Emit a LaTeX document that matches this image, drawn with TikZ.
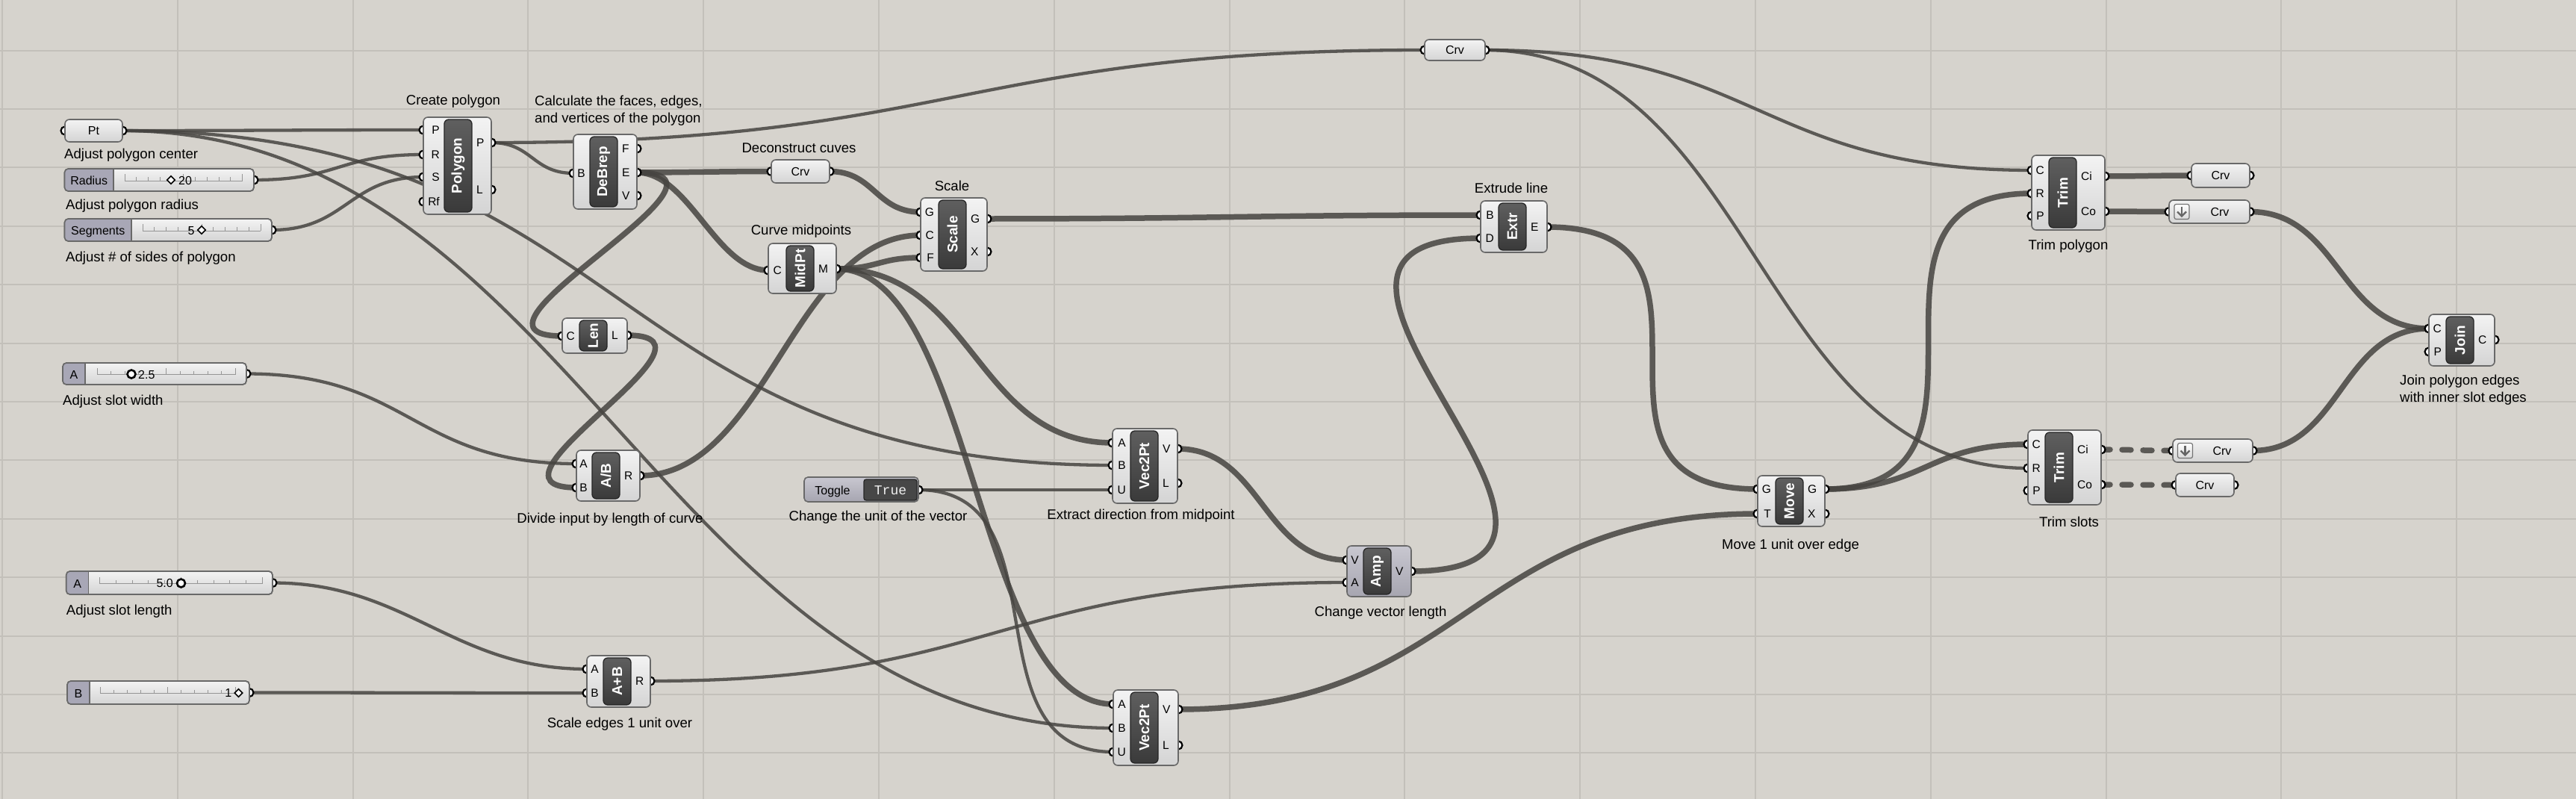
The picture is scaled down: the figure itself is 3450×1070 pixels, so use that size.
\documentclass[tikz,border=0pt]{standalone}
\usepackage{fontspec}
\setmainfont{Liberation Sans}
\newfontfamily\gmono{Liberation Mono}
\pgfdeclarelayer{bg}
\pgfdeclarelayer{wires}
\pgfdeclarelayer{ports}
\pgfsetlayers{bg,wires,ports,main}
\definecolor{canvas}{RGB}{214,211,205}
\definecolor{gridc}{RGB}{195,192,186}
\definecolor{wirec}{RGB}{70,68,65}
\definecolor{boxtop}{RGB}{243,243,243}
\definecolor{boxbot}{RGB}{212,212,212}
\definecolor{boxedge}{RGB}{105,105,105}
\definecolor{bartop}{RGB}{95,95,95}
\definecolor{barbot}{RGB}{58,58,58}
\definecolor{slidelab}{RGB}{168,167,182}
\definecolor{amptop}{RGB}{200,199,208}
\definecolor{ampbot}{RGB}{166,165,176}
\definecolor{tickc}{RGB}{150,150,150}
\tikzset{
  cbox/.style={draw=boxedge,line width=1.6pt,rounded corners=6pt,top color=boxtop,bottom color=boxbot,inner sep=0pt},
  abox/.style={cbox,top color=amptop,bottom color=ampbot},
  cbar/.style={draw=black!85,line width=1.3pt,rounded corners=6pt,top color=bartop,bottom color=barbot,minimum width=37pt,inner sep=0pt},
  ctitle/.style={text=white,font=\bfseries\fontsize{19}{19}\selectfont,rotate=90,inner sep=0pt},
  gport/.style={circle,draw=black,fill=white,line width=2.2pt,minimum size=11pt,inner sep=0pt},
  plab/.style={font=\fontsize{15.5}{16}\selectfont,inner sep=0pt},
  glab/.style={font=\fontsize{18.6}{23}\selectfont,inner sep=0pt,align=left},
  wire/.style={draw=wirec,line width=7.5pt,draw opacity=0.85},
  thinw/.style={line width=4.3pt},
  dwire/.style={dash pattern=on 12pt off 16pt,line cap=round},
  pbox/.style={draw=boxedge,line width=1.6pt,rounded corners=6pt,top color=boxtop,bottom color=boxbot,inner sep=0pt},
  ptext/.style={font=\fontsize{16}{16}\selectfont,inner sep=0pt},
  sbox/.style={draw=boxedge,line width=1.6pt,rounded corners=5pt,top color=boxtop,bottom color=boxbot,inner sep=0pt},
  stick/.style={draw=tickc,line width=1pt},
  diam/.style={rectangle,rotate=45,draw=black,fill=white,line width=1.6pt,minimum size=7.5pt,inner sep=0pt},
  ring/.style={circle,draw=black,fill=white,line width=2.6pt,minimum size=11pt,inner sep=0pt},
}
\newcommand\gcomp[8][cbox]{%
  \def\barL{#7}\def\barR{#7+37}%
  \node[#1,minimum width={(#5-#3)*1pt},minimum height={(#6-#4)*1pt}] (#2) at ({(#3+#5)/2},{(#4+#6)/2}) {};
  \node[cbar,minimum height={(#6-#4-6)*1pt}] (#2-bar) at ({#7+18.5},{(#4+#6)/2}) {};
  \node[ctitle] (#2-ttl) at (#2-bar.center) {#8};
}
\newcommand\pdot[3]{\begin{pgfonlayer}{ports}\node[gport] (#1) at ({#2},{#3}) {};\end{pgfonlayer}}
\newcommand\pin[4]{\pdot{#1}{#2}{#3}\node[plab,anchor=east] (#1-lab) at ({\barL-6},{#3}) {#4};}
\newcommand\pout[4]{\pdot{#1}{#2}{#3}\node[plab,anchor=west] (#1-lab) at ({\barR+6},{#3}) {#4};}
\newcommand\gparam[7]{%
  \node[pbox,minimum width={(#4-#2)*1pt},minimum height={(#5-#3)*1pt}] (#1) at ({(#2+#4)/2},{(#3+#5)/2}) {};
  \node[ptext,anchor=base] (#1-txt) at ({#6},{(#3+#5)/2+5.8}) {#7};
  \pdot{#1-in}{#2}{(#3+#5)/2}
  \pdot{#1-out}{#4}{(#3+#5)/2}
}
\newcommand\gslider[9]{%
  \node[sbox,minimum width={(#4-#2)*1pt},minimum height={(#5-#3)*1pt}] (#1) at ({(#2+#4)/2},{(#3+#5)/2}) {};
  \begin{scope}
    \clip (#2,#3) rectangle (#6,#5);
    \fill[slidelab,rounded corners=5pt] (#2,#3) rectangle (#4,#5);
  \end{scope}
  \draw[boxedge,line width=1.6pt] (#6,#3) -- (#6,#5);
  \draw[boxedge,line width=1.6pt,rounded corners=5pt] (#2,#3) rectangle (#4,#5);
  \node[ptext,anchor=base] (#1-name) at ({(#2+#6)/2},{(#3+#5)/2+6.5}) {#7};
  \draw[stick] (#8,{(#3+#5)/2+1}) -- (#9,{(#3+#5)/2+1});
  \foreach \i/\h in {0/9,1/5,2/5,3/5,4/5,5/9,6/5,7/5,8/5,9/5,10/9}
    {\draw[stick] ({#8+\i*(#9-#8)/10},{(#3+#5)/2+1}) -- ++(0,-\h);}
  \pdot{#1-out}{#4}{(#3+#5)/2}
}
\newcommand\wire[4][]{\draw[wire,#1] (#2.center) .. controls +(#4,0) and +(-#4,0) .. (#3.center);}
\begin{document}
\begin{tikzpicture}[x=1pt,y=-1pt]
\useasboundingbox (0,0) rectangle (3450,1070);
\begin{pgfonlayer}{bg}
  \fill[canvas] (0,0) rectangle (3450,1070);
  \foreach \k in {0,...,14} {\draw[gridc,line width=2pt] ({3+234.8*\k},0) -- ({3+234.8*\k},1070);}
  \foreach \k in {-1,...,11} {\draw[gridc,line width=2pt] (0,{146+78.4*\k}) -- (3450,{146+78.4*\k});}
\end{pgfonlayer}

% ---------- inputs on the left
\gparam{pt}{87}{160}{164}{190}{125.5}{Pt}
\node[glab,anchor=base west] (l1) at (86,212) {Adjust polygon center};

\gslider{rad}{86.5}{226}{340}{256}{152}{Radius}{167}{324.5}
\node[diam] (rad-m) at (229,241) {};
\node[ptext,anchor=base west] (rad-v) at (239,247.5) {20};
\node[glab,anchor=base west] (l2) at (88,280) {Adjust polygon radius};

\gslider{seg}{86.5}{293}{364}{323}{176}{Segments}{191}{349}
\node[ptext,anchor=base] (seg-v) at (256,314) {5};
\node[diam] (seg-m) at (270,308) {};
\node[glab,anchor=base west] (l3) at (88,350) {Adjust \# of sides of polygon};

\gslider{sw}{84}{486}{330}{515}{114}{A}{130}{315}
\node[ring] (sw-m) at (176,501) {};
\node[ptext,anchor=base west] (sw-v) at (185,507) {2.5};
\node[glab,anchor=base west] (l10) at (84,542) {Adjust slot width};

\gslider{sl}{88.7}{765}{365}{796}{118.6}{A}{133.5}{351.6}
\node[ptext,anchor=base] (sl-v) at (220.7,786.5) {5.0};
\node[ring] (sl-m) at (242.5,781) {};
\node[glab,anchor=base west] (l20) at (88.7,823.5) {Adjust slot length};

\gslider{bs}{90}{912}{334}{943}{120}{B}{134.6}{315}
\node[ptext,anchor=base] (bs-v) at (305.7,933.5) {1};
\node[diam] (bs-m) at (319.5,928) {};

% ---------- components
\gcomp{poly}{567}{157}{658}{287}{595}{Polygon}
\pin{polyP}{567}{174}{P}\pin{polyR}{567}{207}{R}\pin{polyS}{567}{237}{S}\pin{polyRf}{567}{270}{Rf}
\pout{polyPo}{658}{191}{P}\pout{polyL}{658}{254}{L}
\node[glab,anchor=base] (l4) at (607,141) {Create polygon};

\gcomp{db}{768}{180}{853}{280}{790}{DeBrep}
\pin{dbB}{768}{232}{B}
\pout{dbF}{853}{199}{F}\pout{dbE}{853}{231}{E}\pout{dbV}{853}{262}{V}
\node[glab,anchor=north west] (l5) at (716,128) {Calculate the faces, edges,\\and vertices of the polygon};

\gparam{crvd}{1033}{214}{1111}{245}{1072}{Crv}
\node[glab,anchor=base] (l6) at (1070,204) {Deconstruct cuves};

\gcomp{mp}{1029}{326}{1120}{393}{1053}{MidPt}
\pin{mpC}{1029}{362}{C}\pout{mpM}{1120}{360}{M}
\node[glab,anchor=base] (l7) at (1073,314) {Curve midpoints};

\gcomp{sc}{1233}{265}{1322}{363}{1257}{Scale}
\pin{scG}{1233}{284}{G}\pin{scC}{1233}{315}{C}\pin{scF}{1233}{345}{F}
\pout{scGo}{1322}{293}{G}\pout{scX}{1322}{337}{X}
\node[glab,anchor=base] (l8) at (1275,255) {Scale};

\gcomp{len}{753}{426}{840}{473}{776}{Len}
\pin{lenC}{753}{450}{C}\pout{lenL}{840}{449}{L}

\gcomp{ab}{772}{603}{857}{671}{793}{A/B}
\pin{abA}{772}{621}{A}\pin{abB}{772}{653}{B}\pout{abR}{857}{637}{R}
\node[glab,anchor=base] (l9) at (817,700) {Divide input by length of curve};

% toggle
\node[draw=boxedge,line width=1.6pt,rounded corners=5pt,top color=amptop,bottom color=ampbot,minimum width=153pt,minimum height=33pt,inner sep=0pt] (tog) at (1153.5,655.5) {};
\node[draw=black!85,line width=1.3pt,rounded corners=3pt,fill=black!72,minimum width=71pt,minimum height=28pt,inner sep=0pt] (tog-t) at (1192.5,656) {};
\node[text=white!88!gray,font=\gmono\fontsize{18}{18}\selectfont,anchor=base,inner sep=0pt] (tog-tt) at (1192.5,662) {True};
\node[ptext,anchor=base] (tog-n) at (1115,662) {Toggle};
\pdot{tog-out}{1230}{656}
\node[glab,anchor=base] (l11) at (1176,697) {Change the unit of the vector};

\gcomp{vt}{1490}{574}{1577}{674}{1514}{Vec2Pt}
\pin{vtA}{1490}{593}{A}\pin{vtB}{1490}{623}{B}\pin{vtU}{1490}{656}{U}
\pout{vtV}{1577}{601}{V}\pout{vtL}{1577}{647}{L}
\node[glab,anchor=base] (l12) at (1528,695) {Extract direction from midpoint};

\gcomp{vb}{1491}{924}{1578}{1025}{1514}{Vec2Pt}
\pin{vbA}{1491}{943}{A}\pin{vbB}{1491}{975}{B}\pin{vbU}{1491}{1007}{U}
\pout{vbV}{1578}{950}{V}\pout{vbL}{1578}{998}{L}

\gcomp{ap}{786}{878}{871}{947}{808}{A+B}
\pin{apA}{786}{896}{A}\pin{apB}{786}{928}{B}\pout{apR}{871}{912}{R}
\node[glab,anchor=base] (l13) at (830,974) {Scale edges 1 unit over};

\gcomp[abox]{amp}{1804}{731}{1890}{799}{1826}{Amp}
\pin{ampV}{1804}{750}{V}\pin{ampA}{1804}{780}{A}\pout{ampO}{1890}{765}{V}
\node[glab,anchor=base] (l14) at (1849,825) {Change vector length};

\gcomp{ex}{1983}{269}{2072}{338}{2007}{Extr}
\pin{exB}{1983}{288}{B}\pin{exD}{1983}{319}{D}\pout{exE}{2072}{304}{E}
\node[glab,anchor=base] (l15) at (2024,258) {Extrude line};

\gcomp{mv}{2354}{637}{2444}{705}{2378}{Move}
\pin{mvG}{2354}{655}{G}\pin{mvT}{2354}{688}{T}\pout{mvGo}{2444}{655}{G}\pout{mvX}{2444}{688}{X}
\node[glab,anchor=base] (l16) at (2398,735) {Move 1 unit over edge};

\gparam{crvt}{1908}{53}{1989}{81}{1948.5}{Crv}

\gcomp{tp}{2721}{208}{2819}{308}{2744}{Trim}
\pin{tpC}{2721}{228}{C}\pin{tpR}{2721}{259}{R}\pin{tpP}{2721}{289}{P}
\pout{tpCi}{2819}{236}{Ci}\pout{tpCo}{2819}{283}{Co}
\node[glab,anchor=base] (l17) at (2770,334) {Trim polygon};

\gparam{crv1}{2935}{219}{3013}{251}{2974}{Crv}
\gparam{crv2}{2905}{268}{3013}{299}{2973}{Crv}
\node[draw=black!55,line width=1.2pt,rounded corners=2.5pt,top color=white,bottom color=black!15,minimum size=20pt,inner sep=0pt] (crv2-ic) at (2922,283.5) {};
\draw[black!60,line width=2.2pt] (crv2-ic.center) ++(0,-7) -- ++(0,13);
\draw[black!60,line width=2.2pt] (crv2-ic.center) ++(-6,0) -- ++(6,6) -- ++(6,-6);

\gcomp{ts}{2716}{576}{2814}{676}{2739}{Trim}
\pin{tsC}{2716}{595}{C}\pin{tsR}{2716}{627}{R}\pin{tsP}{2716}{657}{P}
\pout{tsCi}{2814}{602}{Ci}\pout{tsCo}{2814}{649}{Co}
\node[glab,anchor=base] (l18) at (2771,705) {Trim slots};

\gparam{crv3}{2910}{588}{3017}{619}{2976}{Crv}
\node[draw=black!55,line width=1.2pt,rounded corners=2.5pt,top color=white,bottom color=black!15,minimum size=20pt,inner sep=0pt] (crv3-ic) at (2926.5,603.5) {};
\draw[black!60,line width=2.2pt] (crv3-ic.center) ++(0,-7) -- ++(0,13);
\draw[black!60,line width=2.2pt] (crv3-ic.center) ++(-6,0) -- ++(6,6) -- ++(6,-6);
\gparam{crv4}{2914}{634}{2992}{665}{2953}{Crv}

\gcomp{jn}{3253}{421}{3341}{490}{3276}{Join}
\pin{jC}{3253}{440}{C}\pin{jP}{3253}{471}{P}\pout{jCo}{3341}{455}{C}
\node[glab,anchor=north west] (l19) at (3214,502) {Join polygon edges\\with inner slot edges};

% ---------- wires
\begin{pgfonlayer}{wires}
\wire[thinw]{pt-out}{polyP}{150}
\wire[thinw]{pt-out}{vtB}{680}
\wire[thinw]{pt-out}{vbB}{600}
\wire[thinw]{rad-out}{polyR}{115}
\wire[thinw]{seg-out}{polyS}{100}
\wire[thinw]{polyPo}{dbB}{55}
\wire[thinw]{polyPo}{crvt-in}{620}
\wire{dbE}{crvd-in}{60}
\wire{dbE}{mpC}{70}
\wire{dbE}{lenC}{170}
\wire{crvd-out}{scG}{60}
\wire{mpM}{scF}{56}
\wire{abR}{scC}{170}
\wire{mpM}{vtA}{185}
\wire{mpM}{vbA}{185}
\wire[thinw]{tog-out}{vtU}{120}
\wire[thinw]{tog-out}{vbU}{200}
\wire[thinw]{sw-out}{abA}{220}
\wire{lenL}{abB}{153}
\wire{vtV}{ampV}{113}
\wire[thinw]{apR}{ampA}{466}
\wire{ampO}{exD}{350}
\wire{scGo}{exB}{300}
\wire{exE}{mvG}{282}
\wire{vbV}{mvT}{388}
\wire{mvGo}{tpR}{277}
\wire{mvGo}{tsC}{136}
\wire[thinw]{crvt-out}{tpC}{366}
\wire[thinw]{crvt-out}{tsR}{363}
\wire{tpCi}{crv1-in}{50}
\wire{tpCo}{crv2-in}{40}
\wire{crv2-out}{jC}{120}
\wire[dwire]{tsCi}{crv3-in}{40}
\wire[dwire]{tsCo}{crv4-in}{40}
\wire{crv3-out}{jC}{118}
\wire[thinw]{sl-out}{apA}{180}
\wire[thinw]{bs-out}{apB}{200}
\end{pgfonlayer}
\end{tikzpicture}
\end{document}
